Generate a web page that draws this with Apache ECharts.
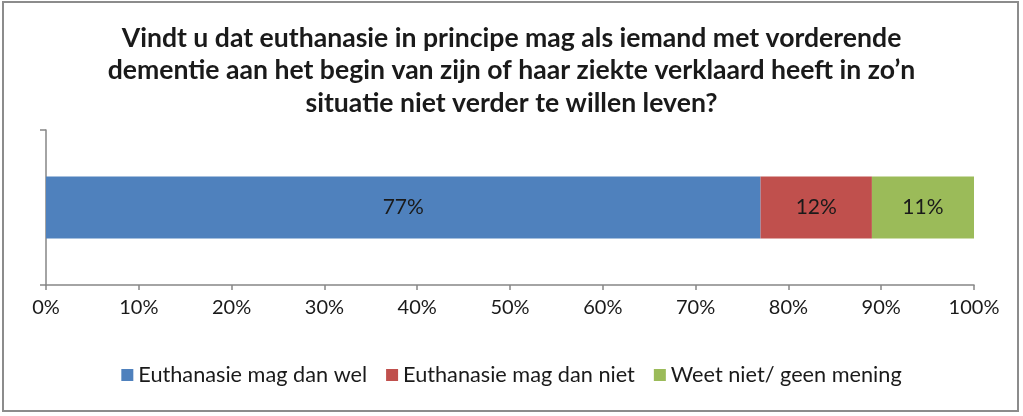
<!DOCTYPE html>
<html><head><meta charset="utf-8">
<script src="https://cdn.jsdelivr.net/npm/echarts@6/dist/echarts.min.js"></script>
<style>html,body{margin:0;padding:0;background:#fff}#c{width:1023px;height:416px}</style>
</head><body><div id="c"></div>
<script>
const categories = [''];
const seriesNames = ['Euthanasie mag dan wel', 'Euthanasie mag dan niet', 'Weet niet/ geen mening'];
const welValues = [77];
const nietValues = [12];
const weetNietValues = [11];
const colors = ['#4F81BD', '#C0504D', '#9BBB59'];
const titleText = 'Vindt u dat euthanasie in principe mag als iemand met vorderende\ndementie aan het begin van zijn of haar ziekte verklaard heeft in zo\u2019n\nsituatie niet verder te willen leven?';
const font = 'Lato, "Open Sans", sans-serif';

const chart = echarts.init(document.getElementById('c'), null, {renderer: 'canvas'});
const seriesData = [welValues, nietValues, weetNietValues];
chart.setOption({
  animation: false,
  title: {
    text: titleText, left: 'center', top: 17,
    textStyle: {fontFamily: font, fontSize: 26.6, fontWeight: 'bold', color: '#1a1a1a', lineHeight: 32.5}
  },
  graphic: [{type: 'rect', shape: {x: 3, y: 2, width: 1015, height: 409}, style: {fill: 'none', stroke: '#8c8c8c', lineWidth: 2}, silent: true}],
  legend: {
    bottom: 25, left: 'center', itemWidth: 12, itemHeight: 12, itemGap: 19, icon: 'rect',
    textStyle: {fontFamily: font, fontSize: 21.7, color: '#1a1a1a'},
    data: seriesNames
  },
  grid: {left: 46, right: 49, top: 130, bottom: 131, containLabel: false},
  xAxis: {
    type: 'value', min: 0, max: 100, interval: 10,
    axisLine: {show: true, lineStyle: {color: '#868686', width: 1.5}},
    axisTick: {show: true, length: 5, lineStyle: {color: '#868686', width: 1.5}},
    splitLine: {show: false},
    axisLabel: {formatter: '{value}%', fontFamily: font, fontSize: 20, color: '#1a1a1a', margin: 13}
  },
  yAxis: {
    type: 'category', data: categories,
    axisLine: {show: true, lineStyle: {color: '#868686', width: 1.5}},
    axisTick: {show: true, length: 6, lineStyle: {color: '#868686', width: 1.5}},
    axisLabel: {show: false}
  },
  series: seriesNames.map((n, i) => ({
    name: n, type: 'bar', stack: 'total', data: seriesData[i], barWidth: 62,
    itemStyle: {color: colors[i]},
    label: {show: true, position: 'inside', formatter: '{c}%', fontFamily: font, fontSize: 21, color: '#1a1a1a'}
  }))
});
</script></body></html>
